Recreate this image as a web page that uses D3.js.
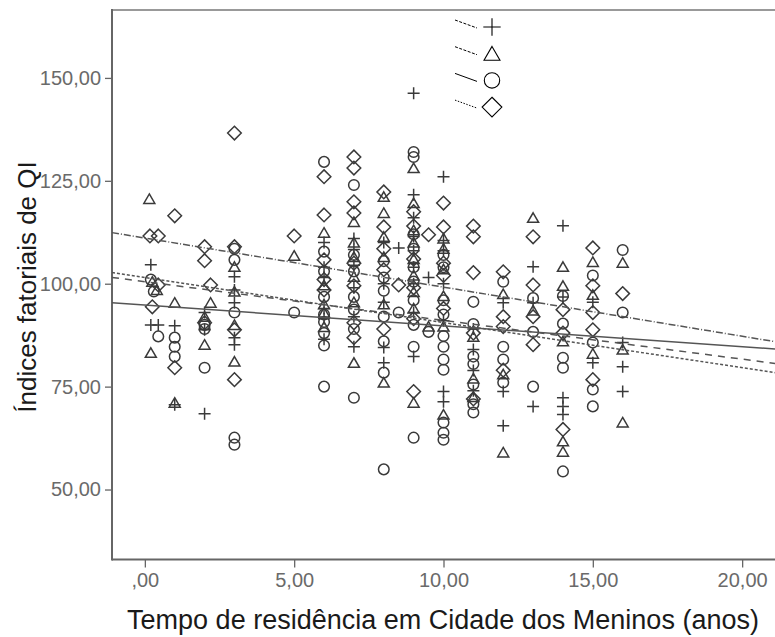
<!DOCTYPE html>
<html>
<head>
<meta charset="utf-8">
<script src="https://cdn.jsdelivr.net/npm/d3@7"></script>
<style>
  body { margin: 0; background: #fff; }
  svg { display: block; }
</style>
</head>
<body>
<svg></svg>
<script>
// tick values and labels
var xTicks = [0, 5, 10, 15, 20];
var xTickLabels = [",00", "5,00", "10,00", "15,00", "20,00"];
var yTicks = [50, 75, 100, 125, 150];
var yTickLabels = ["50,00", "75,00", "100,00", "125,00", "150,00"];

// series: [tempo, QI]
var seriesShapes = ["plus", "triangle", "circle", "diamond"];

var plusPts = [
  [0.2,104.6],[0.2,90],[0.45,90],[1,89.8],[1,70.6],[2,88.8],[2,68.4],[2,93],
  [3,101.7],[3,95.4],[3,86.9],[3,85.2],[3,98.5],
  [6,110],[6,104],[6,94],[6,86.5],[6,91.5],[6,101.5],
  [7,108.3],[7,104.5],[7,99],[7,84.7],[7,92],[7,111],
  [8.5,108.7],[8,100],[8,84.5],[8,80.8],[8,95.5],[8,110],
  [9,146.3],[9,121.6],[9,116],[9,108],[9,100],[9.5,101.5],[9,82.3],[9,93],[9,111.5],[9,104],
  [10,126],[10,108],[10,100],[10,73.8],[10,71.3],[10,91],[10,110.5],
  [11,89],[11,78.9],[11,74],[11,84],
  [12,95.4],[12,73.8],[12,65.5],
  [13,104.1],[13,95.4],[13,70.2],
  [14,114.1],[14,72.3],[14,70.2],[14,96.8],[14,68.2],
  [15,80.8],[15,95.5],
  [16,85.7],[16,79.8],[16,73.8]
];
var triPts = [
  [0.15,120.6],[0.25,100.5],[0.2,83.2],[0.4,98.5],[1,95.4],[1,71.1],
  [2.2,95.4],[2,85.2],[2,92],
  [3,104.1],[3,98.1],[3,81.1],[3,90],
  [5,106.8],
  [6,112.4],[6,95],[6,89.5],[6,99.6],[6,93],
  [7,115],[7,110],[7,101.7],[7,80.8],[7,95.5],[7,106.5],
  [8,121.1],[8,117.2],[8,111.4],[8,76],[8,95],[8,106.5],
  [9,128.1],[9,119.6],[9,110],[9,102],[9,94],[9.5,89.6],[9,71.1],[9,98],[9,113],[9,106],
  [10,111],[10,103.5],[10,68.2],[10,97],[10,89.6],[10,108.5],
  [11,87.1],[11,77],[11,72.5],
  [12,59],[12,78],[12,97.5],
  [13,116],[13,93.5],
  [14,104.1],[14,99.5],[14,61.7],[14,59.2],[14,86],
  [15,105.3],[15,83],[15,97.3],
  [16,105.1],[16,84],[16,66.3]
];
var circPts = [
  [0.2,101],[0.3,98.1],[0.45,87.2],[1,86.9],[1,84.7],[1,82.3],
  [2,90],[2,79.6],[2,89],
  [3,105.8],[3,93],[3,62.6],[3,60.9],[3,108.5],
  [5,93],
  [6,129.6],[6,107.8],[6,96.8],[6,92.5],[6,88],[6,85],[6,75],[6,90.7],[6,103],
  [7,124],[7,107],[7,96.8],[7,93.7],[7,72.3],[7,103],[7,89],
  [8,105.5],[8,98.3],[8,92],[8.5,93],[8,78.4],[8,54.9],[8,86],[8,101.5],
  [9,132],[9,130.8],[9,112],[9,104],[9,96],[9.5,88.3],[9,84.7],[9,62.6],[9,90],[9,108.5],[9,100.5],
  [10,107],[10,96],[10,92.5],[10,87.3],[10,84.7],[10,81.6],[10,79.1],[10,66.3],[10,63.8],[10,62.1],[10,104],
  [11,95.6],[11,90.2],[11,82.3],[11,80.5],[11,75.5],[11,70.7],[11,68.7],
  [12,100.5],[12,84.7],[12,81.6],[12,76],
  [13,88.3],[13,75],[13,96.5],
  [14,90.3],[14,82],[14,79.6],[14,54.4],[14,97],
  [15,102],[15,85.7],[15,74.3],[15,70.2],
  [16,108.2],[16,93]
];
var diaPts = [
  [0.17,111.6],[0.45,111.6],[0.45,99.7],[0.25,94.4],[1,116.5],[1,79.6],
  [2,109],[2,105.6],[2.2,99.7],[2,90.5],
  [3,136.6],[3,109],[3,88.8],[3,76.7],
  [5,111.6],
  [6,126],[6,116.7],[6,105.8],[6,101],[6,98.5],
  [7,130.8],[7,128.1],[7,119.9],[7,117.2],[7,105],[7,90.5],[7,86.9],[7,99.5],
  [8,122.3],[8,113.8],[8,108.5],[8,103.4],[8.5,99.7],[8,89],
  [9,117.5],[9,114],[9,106],[9,99],[9.5,111.9],[9,73.8],[9,91.5],
  [10,119.6],[10,113.8],[10,105],[10,94],[10,102],
  [11,114],[11,111.4],[11,102.7],[11,88],[11,72],
  [12,102.9],[12,92],[12,89.6],[12,79],
  [13,111.4],[13,99.7],[13,85.2],[13,92],
  [14,93.7],[14,64.6],[14,88],
  [15,108.7],[15,99.5],[15,93],[15,88.8],[15,76.7],
  [16,97.6]
];

// fit lines: QI = a + b * tempo
var fitIntercept = [100.5, 101.5, 94.8, 111.1];
var fitSlope = [-0.941, -1.095, -0.504, -1.193];
var fitDash = ["7,6", "3,2", null, "7,2,1,2"];

var allSeries = [plusPts, triPts, circPts, diaPts];

var svg = d3.select("svg").attr("width", 775).attr("height", 637);

var x = d3.scaleLinear().domain([-1.1, 21.1]).range([112, 775]);
var y = d3.scaleLinear().domain([33, 166.5]).range([559.5, 10]);

function shapePath(s, k) {
  k = k || 1;
  var p = d3.path();
  if (s === "plus") {
    p.moveTo(-6 * k, 0); p.lineTo(6 * k, 0);
    p.moveTo(0, -6 * k); p.lineTo(0, 6 * k);
  } else if (s === "triangle") {
    p.moveTo(0, -5 * k); p.lineTo(5.5 * k, 4.5 * k); p.lineTo(-5.5 * k, 4.5 * k); p.closePath();
  } else if (s === "circle") {
    p.arc(0, 0, 5.3 * k, 0, 2 * Math.PI); p.closePath();
  } else {
    p.moveTo(0, -6.8 * k); p.lineTo(6.8 * k, 0); p.lineTo(0, 6.8 * k); p.lineTo(-6.8 * k, 0); p.closePath();
  }
  return p.toString();
}

// frame
svg.append("line").attr("x1", 112).attr("x2", 776).attr("y1", 10).attr("y2", 10)
  .attr("stroke", "#999").attr("stroke-width", 2);

// axes
var xAxis = d3.axisBottom(x).tickValues(xTicks)
  .tickFormat(function(d, i) { return xTickLabels[i]; })
  .tickSize(8).tickPadding(5);
var gx = svg.append("g").attr("transform", "translate(0,559.5)").call(xAxis);
gx.select(".domain").remove();

var yAxis = d3.axisLeft(y).tickValues(yTicks)
  .tickFormat(function(d, i) { return yTickLabels[i]; })
  .tickSize(7).tickPadding(4);
var gy = svg.append("g").attr("transform", "translate(112,0)").call(yAxis);
gy.select(".domain").remove();

svg.selectAll(".tick line").attr("stroke", "#666").attr("stroke-width", 1.3);
svg.selectAll(".tick text")
  .style("font-family", "Liberation Sans, Arial, sans-serif")
  .style("font-size", "20px").attr("fill", "#6a6a6a");

svg.append("line").attr("x1", 112).attr("x2", 776).attr("y1", 559.5).attr("y2", 559.5)
  .attr("stroke", "#666").attr("stroke-width", 2);
svg.append("line").attr("x1", 112).attr("x2", 112).attr("y1", 9).attr("y2", 560.5)
  .attr("stroke", "#666").attr("stroke-width", 2);

// points
var gp = svg.append("g");
allSeries.forEach(function(pts, si) {
  gp.selectAll(".s" + si).data(pts).enter().append("path")
    .attr("class", "s" + si)
    .attr("transform", function(d) { return "translate(" + x(d[0]) + "," + y(d[1]) + ")"; })
    .attr("d", shapePath(seriesShapes[si]))
    .attr("fill", "none").attr("stroke", "#3a3a3a").attr("stroke-width", 1.5);
});

// fit lines
var xd = x.domain();
seriesShapes.forEach(function(s, si) {
  svg.append("line")
    .attr("x1", x(xd[0])).attr("y1", y(fitIntercept[si] + fitSlope[si] * xd[0]))
    .attr("x2", x(xd[1])).attr("y2", y(fitIntercept[si] + fitSlope[si] * xd[1]))
    .attr("stroke", "#555").attr("stroke-width", 1.5)
    .attr("stroke-dasharray", fitDash[si]);
});

// legend
var leg = svg.append("g");
seriesShapes.forEach(function(s, si) {
  var cy = 27 + si * 26.7;
  leg.append("line").attr("x1", 455).attr("y1", cy - 7).attr("x2", 477).attr("y2", cy + 1)
    .attr("stroke", "#000").attr("stroke-width", 1)
    .attr("stroke-dasharray", fitDash[si] ? (si === 3 ? "1.5,1.5" : "3,1.5") : null);
  leg.append("path").attr("transform", "translate(492," + cy + ")")
    .attr("d", shapePath(s, 1.45))
    .attr("fill", "none").attr("stroke", "#000").attr("stroke-width", 1.1);
});

// axis titles
svg.append("text")
  .attr("x", 443).attr("y", 629)
  .attr("text-anchor", "middle")
  .style("font-family", "Liberation Sans, Arial, sans-serif")
  .style("font-size", "27px").attr("fill", "#1a1a1a")
  .text("Tempo de residência em Cidade dos Meninos (anos)");

svg.append("text")
  .attr("transform", "translate(36,287) rotate(-90)")
  .attr("text-anchor", "middle")
  .style("font-family", "Liberation Sans, Arial, sans-serif")
  .style("font-size", "26px").attr("fill", "#1a1a1a")
  .text("Índices fatoriais de QI");
</script>
</body>
</html>
